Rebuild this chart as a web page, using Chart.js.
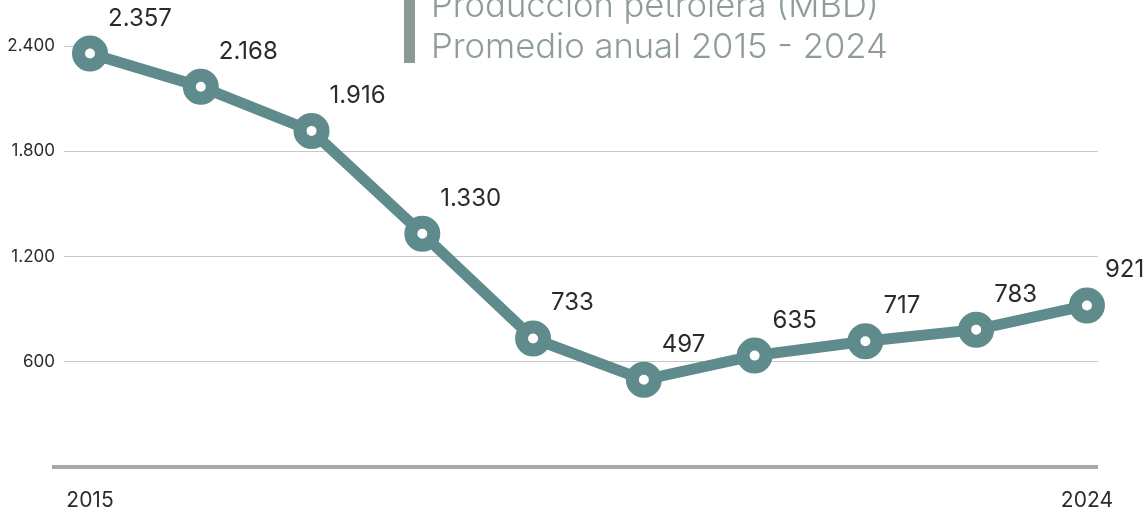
<!DOCTYPE html>
<html>
<head>
<meta charset="utf-8">
<script src="https://cdn.jsdelivr.net/npm/chart.js@4"></script>
<style>
  html, body { margin: 0; padding: 0; background: #fff; }
  #wrap { position: relative; width: 1145px; height: 514px; overflow: hidden; }
  #titulo {
    position: absolute; left: 404px; top: -16px; height: 79px;
    border-left: 11px solid #8c9a93;
    padding-left: 16px;
    font-family: Inter, sans-serif; font-weight: 300; font-size: 34.6px; line-height: 41px;
    color: #8e9d97; white-space: nowrap;
  }
</style>
</head>
<body>
<div id="wrap">
  <canvas id="myChart" width="1145" height="514"></canvas>
  <div id="titulo">Producción petrolera (MBD)<br>Promedio anual 2015 - 2024</div>
</div>
<script>
// años y producción promedio (miles de barriles diarios)
var years = [2015, 2016, 2017, 2018, 2019, 2020, 2021, 2022, 2023, 2024];
var produccion = [2357, 2168, 1916, 1330, 733, 497, 635, 717, 783, 921];
var yTicks = [600, 1200, 1800, 2400];
var xTicks = [2015, 2024];

var teal = '#5f8b8c';

function miles(v) {
  return String(v).replace(/\B(?=(\d{3})+(?!\d))/g, '.');
}

// linea base gris gruesa (eje en cero)
var baseline = {
  id: 'baseline',
  beforeDatasetsDraw: function (chart) {
    var ctx = chart.ctx, a = chart.chartArea;
    var y = chart.scales.y.getPixelForValue(0);
    ctx.save();
    ctx.strokeStyle = '#a8a8ac';
    ctx.lineWidth = 4;
    ctx.beginPath();
    ctx.moveTo(a.left - 38, y);
    ctx.lineTo(a.right, y);
    ctx.stroke();
    ctx.restore();
  }
};

// etiquetas de valor junto a cada punto
var valores = {
  id: 'valores',
  afterDatasetsDraw: function (chart) {
    var ctx = chart.ctx;
    var meta = chart.getDatasetMeta(0);
    ctx.save();
    ctx.font = '24px Inter, sans-serif';
    ctx.fillStyle = '#2b2b2b';
    ctx.textAlign = 'left';
    ctx.textBaseline = 'alphabetic';
    meta.data.forEach(function (pt, i) {
      ctx.fillText(miles(produccion[i]), pt.x + 18, pt.y - 28);
    });
    ctx.restore();
  }
};

var ctx = document.getElementById('myChart').getContext('2d');
var chart = new Chart(ctx, {
  type: 'line',
  data: {
    datasets: [{
      data: years.map(function (y, i) { return { x: y, y: produccion[i] }; }),
      borderColor: teal,
      borderWidth: 11,
      pointRadius: 11.5,
      pointHoverRadius: 11.5,
      pointBorderWidth: 13,
      pointHoverBorderWidth: 13,
      pointBackgroundColor: '#fff',
      pointBorderColor: teal,
      tension: 0,
      clip: false
    }]
  },
  options: {
    responsive: false,
    animation: false,
    layout: { padding: { left: 8, right: 47, top: 46, bottom: 3 } },
    plugins: { legend: { display: false }, tooltip: { enabled: false } },
    scales: {
      x: {
        type: 'linear',
        min: 2015,
        max: 2024.1,
        afterBuildTicks: function (s) { s.ticks = xTicks.map(function (v) { return { value: v }; }); },
        afterFit: function (s) { s.height = 44; },
        grid: { display: false },
        border: { display: false },
        ticks: {
          padding: 13,
          maxRotation: 0,
          autoSkip: false,
          color: '#2b2b2b',
          font: { family: 'Inter', size: 21 },
          callback: function (v) { return String(v); }
        }
      },
      y: {
        min: 0,
        max: 2400,
        afterBuildTicks: function (s) { s.ticks = [0].concat(yTicks).map(function (v) { return { value: v }; }); },
        afterFit: function (s) { s.width = 82; },
        border: { display: false },
        grid: {
          drawTicks: true,
          tickLength: 26,
          lineWidth: 1,
          color: function (c) {
            var v = c.tick && c.tick.value;
            return (v === 0 || v === 2400) ? 'rgba(0,0,0,0)' : '#c8c8c8';
          },
          tickColor: function (c) {
            var v = c.tick && c.tick.value;
            return v === 0 ? 'rgba(0,0,0,0)' : '#c8c8c8';
          }
        },
        ticks: {
          padding: 9,
          color: '#2b2b2b',
          font: { family: 'Inter', size: 17 },
          callback: function (v) { return v === 0 ? '' : miles(v); }
        }
      }
    }
  },
  plugins: [baseline, valores]
});
</script>
</body>
</html>
